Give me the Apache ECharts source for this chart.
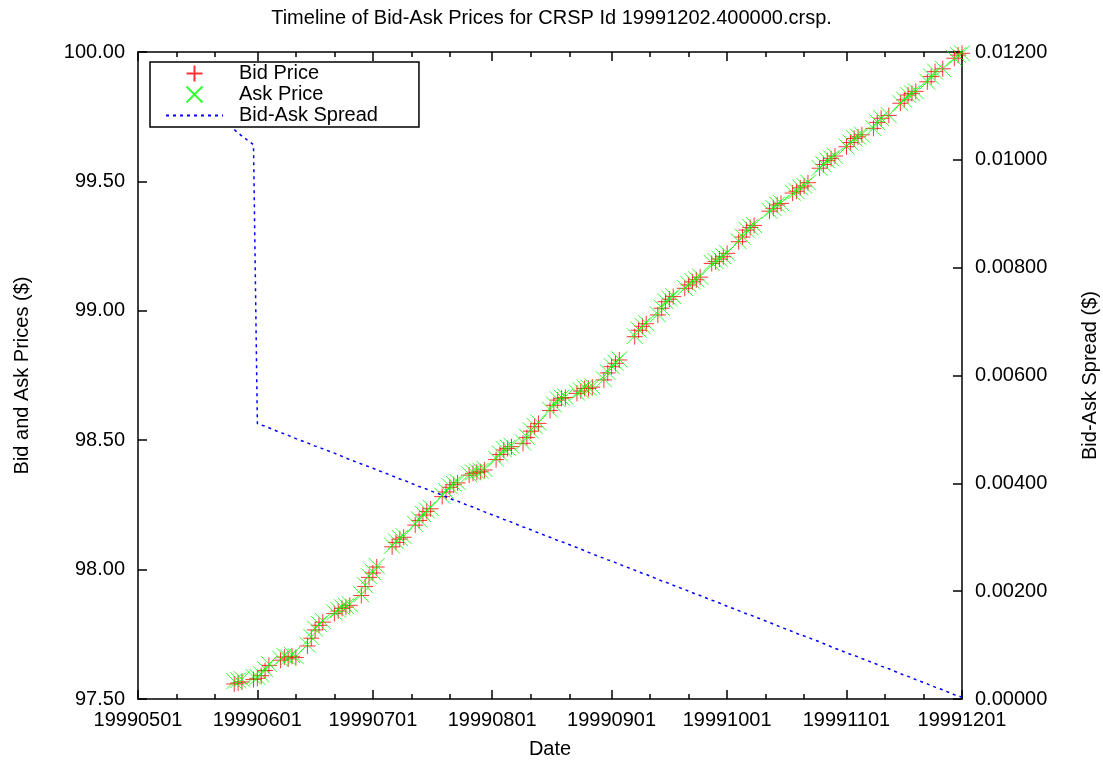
<!DOCTYPE html>
<html><head><meta charset="utf-8">
<script src="https://cdn.jsdelivr.net/npm/echarts@6/dist/echarts.min.js"></script>
<style>html,body{margin:0;padding:0;background:#fff}#c{width:1103px;height:763px}</style>
</head><body><div id="c"></div>
<script>
const dates = [
'1999-05-26','1999-05-27','1999-05-28','1999-05-31',
'1999-06-01','1999-06-02','1999-06-03','1999-06-04','1999-06-07','1999-06-08','1999-06-09','1999-06-10','1999-06-11','1999-06-14','1999-06-15','1999-06-16','1999-06-17','1999-06-18','1999-06-21','1999-06-22','1999-06-23','1999-06-24','1999-06-25','1999-06-28','1999-06-29','1999-06-30',
'1999-07-01','1999-07-02','1999-07-06','1999-07-07','1999-07-08','1999-07-09','1999-07-12','1999-07-13','1999-07-14','1999-07-15','1999-07-16','1999-07-19','1999-07-20','1999-07-21','1999-07-22','1999-07-23','1999-07-26','1999-07-27','1999-07-28','1999-07-29','1999-07-30',
'1999-08-02','1999-08-03','1999-08-04','1999-08-05','1999-08-06','1999-08-09','1999-08-10','1999-08-11','1999-08-12','1999-08-13','1999-08-16','1999-08-17','1999-08-18','1999-08-19','1999-08-20','1999-08-23','1999-08-24','1999-08-25','1999-08-26','1999-08-27','1999-08-30','1999-08-31',
'1999-09-01','1999-09-02','1999-09-03','1999-09-07','1999-09-08','1999-09-09','1999-09-10','1999-09-13','1999-09-14','1999-09-15','1999-09-16','1999-09-17','1999-09-20','1999-09-21','1999-09-22','1999-09-23','1999-09-24','1999-09-27','1999-09-28','1999-09-29','1999-09-30',
'1999-10-01','1999-10-04','1999-10-05','1999-10-06','1999-10-07','1999-10-08','1999-10-12','1999-10-13','1999-10-14','1999-10-15','1999-10-18','1999-10-19','1999-10-20','1999-10-21','1999-10-22','1999-10-25','1999-10-26','1999-10-27','1999-10-28','1999-10-29',
'1999-11-01','1999-11-02','1999-11-03','1999-11-04','1999-11-05','1999-11-08','1999-11-09','1999-11-10','1999-11-12','1999-11-15','1999-11-16','1999-11-17','1999-11-18','1999-11-19','1999-11-22','1999-11-23','1999-11-24','1999-11-26','1999-11-29','1999-11-30',
'1999-12-01'
];
const bidPrices = [
97.558,97.562,97.566,97.575,
97.580,97.590,97.610,97.630,97.650,97.662,97.655,97.665,97.660,97.705,97.735,97.767,97.785,97.797,97.830,97.840,97.850,97.855,97.862,97.900,97.935,97.970,
97.987,98.010,98.088,98.105,98.118,98.125,98.172,98.190,98.211,98.225,98.235,98.282,98.300,98.318,98.328,98.335,98.365,98.372,98.376,98.378,98.385,
98.425,98.445,98.462,98.468,98.475,98.488,98.510,98.535,98.552,98.565,98.615,98.635,98.655,98.662,98.665,98.681,98.690,98.700,98.700,98.705,98.733,98.760,
98.784,98.797,98.810,98.900,98.925,98.940,98.950,98.984,99.010,99.035,99.045,99.055,99.087,99.100,99.112,99.120,99.130,99.183,99.190,99.200,99.209,
99.222,99.267,99.285,99.312,99.322,99.330,99.385,99.396,99.409,99.415,99.455,99.462,99.475,99.482,99.495,99.551,99.565,99.580,99.588,99.598,
99.634,99.650,99.666,99.672,99.680,99.705,99.728,99.744,99.755,99.802,99.815,99.834,99.840,99.848,99.885,99.905,99.924,99.935,99.976,99.988,
99.995
];
const askPrices = [
97.5686,97.5725,97.5764,97.5853,
97.5851,97.5951,97.6151,97.6350,97.6549,97.6669,97.6599,97.6699,97.6648,97.7098,97.7397,97.7717,97.7897,97.8016,97.8346,97.8445,97.8545,97.8595,97.8664,97.9044,97.9393,97.9743,
97.9913,98.0143,98.0921,98.1091,98.1221,98.1291,98.1760,98.1939,98.2149,98.2289,98.2389,98.2858,98.3038,98.3217,98.3317,98.3387,98.3686,98.3756,98.3795,98.3815,98.3885,
98.4284,98.4484,98.4653,98.4713,98.4783,98.4912,98.5132,98.5381,98.5551,98.5681,98.6180,98.6380,98.6579,98.6649,98.6679,98.6838,98.6928,98.7028,98.7027,98.7077,98.7356,98.7626,
98.7866,98.7995,98.8125,98.9024,98.9274,98.9423,98.9523,98.9862,99.0122,99.0372,99.0471,99.0571,99.0890,99.1020,99.1140,99.1219,99.1319,99.1848,99.1918,99.2018,99.2108,
99.2237,99.2686,99.2866,99.3136,99.3236,99.3315,99.3864,99.3974,99.4104,99.4163,99.4563,99.4632,99.4762,99.4832,99.4961,99.5521,99.5660,99.5810,99.5890,99.5989,
99.6349,99.6508,99.6668,99.6728,99.6808,99.7057,99.7286,99.7446,99.7556,99.8025,99.8154,99.8344,99.8404,99.8484,99.8853,99.9053,99.9242,99.9352,99.9761,99.9881,
99.9950
];
const spreads = [
0.01056,0.01050,0.01044,0.01028,
0.00511,0.00508,0.00506,0.00503,0.00494,0.00492,0.00489,0.00486,0.00483,0.00475,0.00472,0.00469,0.00467,0.00464,0.00456,0.00453,0.00450,0.00447,0.00444,0.00436,0.00433,0.00431,
0.00428,0.00425,0.00414,0.00411,0.00408,0.00406,0.00397,0.00394,0.00392,0.00389,0.00386,0.00378,0.00375,0.00372,0.00369,0.00367,0.00358,0.00356,0.00353,0.00350,0.00347,
0.00339,0.00336,0.00333,0.00331,0.00328,0.00319,0.00317,0.00314,0.00311,0.00308,0.00300,0.00297,0.00294,0.00292,0.00289,0.00281,0.00278,0.00275,0.00272,0.00269,0.00261,0.00258,
0.00256,0.00253,0.00250,0.00239,0.00236,0.00233,0.00231,0.00222,0.00219,0.00217,0.00214,0.00211,0.00203,0.00200,0.00197,0.00194,0.00192,0.00183,0.00181,0.00178,0.00175,
0.00172,0.00164,0.00161,0.00158,0.00156,0.00153,0.00142,0.00139,0.00136,0.00133,0.00125,0.00122,0.00119,0.00117,0.00114,0.00106,0.00103,0.00100,0.00097,0.00094,
0.00086,0.00083,0.00081,0.00078,0.00075,0.00067,0.00064,0.00061,0.00056,0.00047,0.00044,0.00042,0.00039,0.00036,0.00028,0.00025,0.00022,0.00017,0.00008,0.00006,
0.00003
];
const monthTicks = ['1999-05-01','1999-06-01','1999-07-01','1999-08-01','1999-09-01','1999-10-01','1999-11-01','1999-12-01'];
const minorTicks = ['1999-05-11','1999-05-21','1999-06-11','1999-06-21','1999-07-11','1999-07-21','1999-08-11','1999-08-21','1999-09-11','1999-09-21','1999-10-11','1999-10-21','1999-11-11','1999-11-21'];

const FONT = '"Liberation Sans", Arial, Helvetica, sans-serif';
const T = s => { const p = s.split('-').map(Number); return Date.UTC(p[0], p[1] - 1, p[2]); };
const pad = n => (n < 10 ? '0' : '') + n;
const fmtDate = v => { const d = new Date(v); return d.getUTCFullYear() + pad(d.getUTCMonth() + 1) + pad(d.getUTCDate()); };
const xMin = T(monthTicks[0]), xMax = T(monthTicks[monthTicks.length - 1]);
const majorVals = monthTicks.map(T), minorVals = minorTicks.map(T);
const AX = { color: '#000', width: 1.5 };

function xAx(pos, major, main) {
  const lab = main && pos === 'bottom';
  return {
    type: 'value', position: pos, min: xMin, max: xMax, scale: true,
    axisLine: { show: main, onZero: false, lineStyle: AX },
    axisTick: { show: true, inside: true, length: major ? 9 : 5, customValues: major ? majorVals : minorVals, lineStyle: AX },
    axisLabel: lab ? { show: true, customValues: majorVals, formatter: fmtDate, margin: 11, color: '#000', fontSize: 20, fontFamily: FONT, hideOverlap: false, showMinLabel: true, showMaxLabel: true } : { show: false },
    splitLine: { show: false },
    name: lab ? 'Date' : '',
    nameLocation: 'middle', nameGap: 40,
    nameTextStyle: { color: '#000', fontSize: 20, fontFamily: FONT }
  };
}

const plus = 'path://M0,8L16,8M8,0L8,16';
const cross = 'path://M0,0L16,16M16,0L0,16';

const chart = echarts.init(document.getElementById('c'), null, { renderer: 'canvas' });
chart.setOption({
  animation: false,
  backgroundColor: '#fff',
  title: {
    text: 'Timeline of Bid-Ask Prices for CRSP Id 19991202.400000.crsp.',
    left: 'center', top: 8, padding: 0,
    textStyle: { color: '#000', fontWeight: 'normal', fontSize: 20, fontFamily: FONT }
  },
  legend: {
    orient: 'vertical', left: 150, top: 62,
    padding: [1, 41, 1, 15], itemGap: 0, itemWidth: 57, itemHeight: 16,
    borderColor: '#000', borderWidth: 1.5,
    textStyle: { color: '#000', fontSize: 20, fontFamily: FONT, lineHeight: 21, padding: [0, 0, 0, 11] },
    data: [
      'Bid Price',
      'Ask Price',
      { name: 'Bid-Ask Spread', itemStyle: { opacity: 0 } }
    ]
  },
  grid: { left: 138, right: 141, top: 52, bottom: 64, containLabel: false, outerBoundsMode: 'none' },
  xAxis: [xAx('bottom', true, true), xAx('bottom', false, false), xAx('top', true, true), xAx('top', false, false)],
  yAxis: [
    {
      type: 'value', position: 'left', min: 97.5, max: 100, interval: 0.5,
      axisLine: { show: true, onZero: false, lineStyle: AX },
      axisTick: { show: true, inside: true, length: 9, lineStyle: AX },
      axisLabel: { formatter: v => v.toFixed(2), margin: 13, color: '#000', fontSize: 20, fontFamily: FONT },
      splitLine: { show: false },
      name: 'Bid and Ask Prices ($)', nameLocation: 'middle', nameRotate: 90, nameGap: 106,
      nameTextStyle: { color: '#000', fontSize: 20, fontFamily: FONT }
    },
    {
      type: 'value', position: 'right', min: 0, max: 0.012, interval: 0.002,
      axisLine: { show: true, onZero: false, lineStyle: AX },
      axisTick: { show: true, inside: true, length: 9, lineStyle: AX },
      axisLabel: { formatter: v => v.toFixed(5), margin: 13, color: '#000', fontSize: 20, fontFamily: FONT },
      splitLine: { show: false },
      name: 'Bid-Ask Spread ($)', nameLocation: 'middle', nameRotate: 90, nameGap: 118,
      nameTextStyle: { color: '#000', fontSize: 20, fontFamily: FONT }
    }
  ],
  series: [
    {
      name: 'Bid Price', type: 'scatter', xAxisIndex: 0, yAxisIndex: 0,
      symbol: plus, symbolSize: 16, symbolKeepAspect: true,
      itemStyle: { color: 'rgba(0,0,0,0)', borderColor: '#ff0000', borderWidth: 1 },
      emphasis: { disabled: true },
      data: dates.map((d, i) => [T(d), bidPrices[i]])
    },
    {
      name: 'Ask Price', type: 'scatter', xAxisIndex: 0, yAxisIndex: 0,
      symbol: cross, symbolSize: 16, symbolKeepAspect: true,
      itemStyle: { color: 'rgba(0,0,0,0)', borderColor: '#00ff00', borderWidth: 1 },
      emphasis: { disabled: true },
      data: dates.map((d, i) => [T(d), askPrices[i]])
    },
    {
      name: 'Bid-Ask Spread', type: 'line', xAxisIndex: 0, yAxisIndex: 1,
      symbol: 'none', showSymbol: false,
      lineStyle: { color: '#0000ff', width: 1.5, type: [3, 4] },
      itemStyle: { color: '#0000ff' },
      emphasis: { disabled: true },
      data: dates.map((d, i) => [T(d), spreads[i]])
    }
  ]
});
</script>
</body></html>
